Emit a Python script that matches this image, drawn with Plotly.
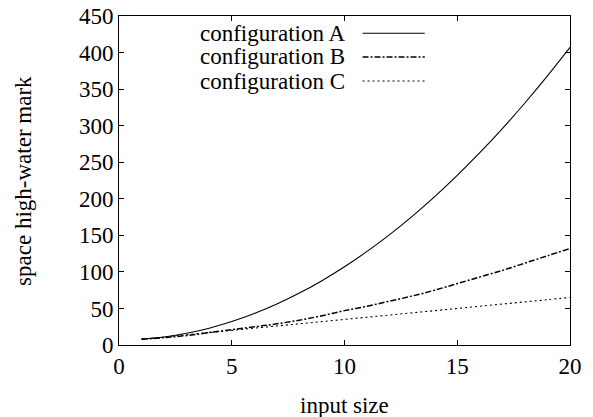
import plotly.graph_objects as go

input_size = list(range(1, 21))
config_a = [8, 11, 16, 23, 32, 43, 56, 71, 88, 107, 128, 151, 176, 203, 232, 263, 296, 331, 368, 407]
config_b = [8, 10, 13, 17, 21, 25, 29, 34, 40, 47, 53, 60, 67, 75, 84, 93, 102, 112, 122, 132]
config_c = [8, 11, 14, 17, 20, 23, 26, 29, 32, 35, 38, 41, 44, 47, 50, 53, 56, 59, 62, 65]
series_names = ["configuration A", "configuration B", "configuration C"]
x_ticks = [0, 5, 10, 15, 20]
y_ticks = list(range(0, 451, 50))
x_title = "input size"
y_title = "space high-water mark"

FONT = "Liberation Serif, Times New Roman, serif"
FS = 23
dashes = ["solid", "6px,2px,2px,2px", "2px,3px"]
widths = [1.1, 1.5, 1.1]

fig = go.Figure()
for name, ys, d, w in zip(series_names, [config_a, config_b, config_c], dashes, widths):
    fig.add_trace(go.Scatter(x=input_size, y=ys, mode="lines", name=name,
                             line=dict(color="black", width=w, dash=d, shape="spline"),
                             showlegend=False))

# gnuplot-style key: right-aligned text with sample line to the right
rows_y = [0.9474, 0.8754, 0.8024]
for name, yy, d, w in zip(series_names, rows_y, dashes, widths):
    fig.add_annotation(x=0.505, y=yy, xref="paper", yref="paper", text=name,
                       showarrow=False, xanchor="right", yanchor="middle",
                       font=dict(family=FONT, size=FS, color="black"))
    fig.add_shape(type="line", xref="paper", yref="paper", x0=0.540, x1=0.678, y0=yy, y1=yy,
                  line=dict(color="black", width=w, dash=d))

# axis titles
fig.add_annotation(x=0.5, y=-0.1854, xref="paper", yref="paper", text=x_title, showarrow=False,
                   xanchor="center", yanchor="middle", font=dict(family=FONT, size=FS, color="black"))
fig.add_annotation(x=-0.212, y=0.5, xref="paper", yref="paper", text=y_title, showarrow=False,
                   textangle=-90, xanchor="center", yanchor="middle",
                   font=dict(family=FONT, size=FS, color="black"))

axis_common = dict(showgrid=False, zeroline=False, showline=True, linecolor="black", linewidth=1,
                   mirror="ticks", ticks="inside", ticklen=5, tickcolor="black", tickwidth=1,
                   ticklabeloverflow="allow", automargin=False,
                   tickfont=dict(family=FONT, size=FS, color="black"))
fig.update_xaxes(range=[0, 20], tickvals=x_ticks, ticktext=[str(v) for v in x_ticks], **axis_common)
fig.update_yaxes(range=[0, 450], tickvals=y_ticks, ticktext=[str(v) for v in y_ticks], **axis_common)

fig.update_layout(width=593, height=417, margin=dict(l=119, r=23, t=16, b=72),
                  paper_bgcolor="white", plot_bgcolor="white",
                  font=dict(family=FONT, size=FS, color="black"))

fig.write_html("out.html", config={"displayModeBar": False},
               post_script="document.body.style.margin='0';")
